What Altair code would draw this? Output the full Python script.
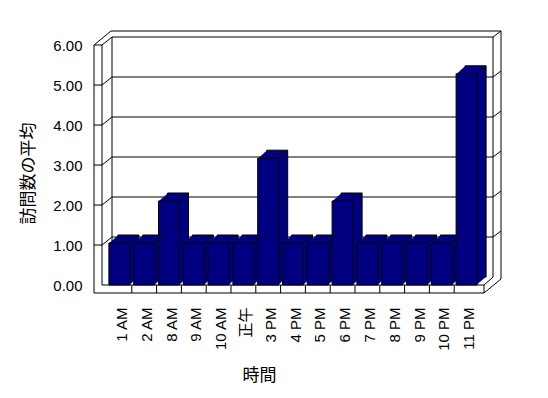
import json
import altair as alt
import pandas as pd

# ---- data ----
categories = ["1 AM", "2 AM", "8 AM", "9 AM", "10 AM", "正午", "3 PM",
              "4 PM", "5 PM", "6 PM", "7 PM", "8 PM", "9 PM", "10 PM", "11 PM"]
values = [1.05, 1.05, 2.1, 1.05, 1.05, 1.05, 3.17,
          1.05, 1.05, 2.1, 1.05, 1.05, 1.05, 1.05, 5.28]
y_ticks = [0, 1, 2, 3, 4, 5, 6]
grid_values = [1, 2, 3, 4, 5]

bars = pd.DataFrame({"idx": list(range(len(categories))), "cat": categories, "v": values})
seps = pd.DataFrame({"s": [i - 0.5 for i in range(1, len(categories))], "z": 0})
grid = pd.DataFrame({"g": grid_values})

W, H = 382, 240
NAVY = "#000080"
BW, DX, DY = 21, 9, 8
XB, XR = 10, 391  # back wall left / right (plot px)

xs = alt.Scale(domain=[-0.5, len(categories) - 0.5], nice=False, zero=False)
ys = alt.Scale(domain=[0, 6], nice=False, zero=True)

label_expr = json.dumps(categories, ensure_ascii=False) + "[datum.value]"

XAX = alt.Axis(values=list(range(len(categories))), labelExpr=label_expr,
               labelAngle=270, ticks=False, tickSize=0, domain=False, grid=False,
               labelPadding=22, labelOffset=2, title="時間", titleX=157, titleY=90,
               titleAlign="center", titleBaseline="middle")
YAX = alt.Axis(values=y_ticks, format=".2f", ticks=False, tickSize=0, domain=False,
               grid=False, labelPadding=20, title="訪問数の平均", titleAngle=270,
               titleX=-74, titleY=128, titleAlign="center", titleBaseline="middle")

layers = []


def yq(f):
    return alt.Y(f, type="quantitative", scale=ys, axis=YAX)


def xq(f):
    return alt.X(f, type="quantitative", scale=xs, axis=XAX)


def seg(x1, x2, y1, y2, o1=0, o2=0):
    d = pd.DataFrame({"a": [y1], "b": [y2]})
    return alt.Chart(d).mark_rule(color="black", strokeWidth=1, yOffset=o1, y2Offset=o2).encode(
        x=alt.value(x1), x2=alt.value(x2), y=yq("a"), y2=alt.Y2("b"))


def vseg(x, y1, y2, o1=0, o2=0):
    d = pd.DataFrame({"a": [y1], "b": [y2]})
    return alt.Chart(d).mark_rule(color="black", strokeWidth=1, yOffset=o1, y2Offset=o2).encode(
        x=alt.value(x), y=yq("a"), y2=alt.Y2("b"))


# back wall
layers.append(seg(XB, XR, 6, 6, -DY, -DY))            # inner top
layers.append(seg(XB - 1, XR + 8, 6, 6, -14, -14))     # outer top
layers.append(vseg(XB, 6, 0, -DY, -DY))                # back-left edge
layers.append(vseg(XR, 6, 0, -DY, -DY))                # back-right edge
layers.append(vseg(XR + 8, 6, 0, -14, -6))             # outer right edge
layers.append(seg(XR, XR + 8, 6, 6, -DY, -14))         # top-right corner
# left wall
layers.append(vseg(-8, 6, 0, 0, 8))
layers.append(vseg(0, 6, 0, 0, 0))
layers.append(seg(-8, 0, 6, 6))
layers.append(seg(-8, XB - 1, 6, 6, 0, -14))
layers.append(seg(0, XB, 6, 6, 0, -DY))

# gridlines (back wall, left wall diagonal, front tick, right wall diagonal)
layers.append(alt.Chart(grid).mark_rule(color="black", yOffset=-DY).encode(
    x=alt.value(XB), x2=alt.value(XR), y=yq("g")))
layers.append(alt.Chart(grid).mark_rule(color="black", y2Offset=-DY).encode(
    x=alt.value(0), x2=alt.value(XB), y=yq("g"), y2=alt.Y2("g")))
layers.append(alt.Chart(grid).mark_rule(color="black").encode(
    x=alt.value(-8), x2=alt.value(0), y=yq("g")))
layers.append(alt.Chart(grid).mark_rule(color="black", yOffset=-DY, y2Offset=-14).encode(
    x=alt.value(XR), x2=alt.value(XR + 8), y=yq("g"), y2=alt.Y2("g")))

# floor
layers.append(seg(0, W, 0, 0))
layers.append(seg(-8, W, 0, 0, 8, 8))
layers.append(vseg(W, 0, 0, 0, 8))
layers.append(seg(W, XR, 0, 0, 0, -DY))
layers.append(seg(W, XR + 8, 0, 0, 8, -6))
layers.append(alt.Chart(seps).mark_rule(color="black", y2Offset=8).encode(
    x=xq("s"), y=yq("z"), y2=alt.Y2("z")))

# bars: 3-D extrusion built from offset copies
base = alt.Chart(bars)
for k in range(DX, 0, -1):
    d = DY * k / DX
    kw = dict(width=BW, xOffset=k, yOffset=-d, y2Offset=-d, color=NAVY)
    if k == DX:
        kw.update(stroke="black", strokeWidth=1)
    layers.append(base.mark_bar(**kw).encode(x=xq("idx"), y=yq("v")))

# front faces
layers.append(base.mark_bar(width=BW, color=NAVY, stroke="black", strokeWidth=1).encode(
    x=xq("idx"), y=yq("v"), tooltip=["cat:N", "v:Q"]))

# top-right diagonal edge of each bar
layers.append(base.mark_rule(color="black", strokeWidth=1, xOffset=BW / 2, x2Offset=BW / 2 + DX,
                             y2Offset=-DY).encode(
    x=xq("idx"), x2=alt.X2("idx"), y=yq("v"), y2=alt.Y2("v")))

chart = alt.layer(*layers).properties(
    width=W, height=H,
    padding={"left": 102, "top": 45, "right": 64, "bottom": 113},
    autosize=alt.AutoSizeParams(type="none"),
).configure(background="white").configure_view(stroke="transparent").configure_axis(
    labelFont="Liberation Sans, Noto Sans CJK JP", labelFontSize=15, labelColor="black",
    titleFont="Noto Sans CJK JP", titleFontSize=17, titleColor="black", titleFontWeight="normal",
)

chart.save("out.html", embed_options={"renderer": "svg", "actions": False})
